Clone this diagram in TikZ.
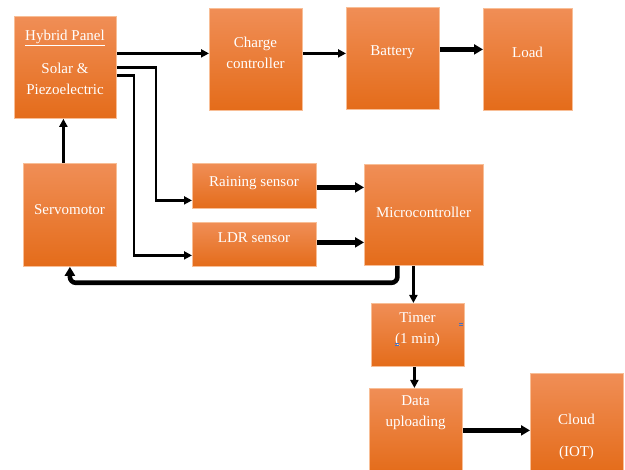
\documentclass[tikz,border=0pt]{standalone}
\usepackage{fontspec}
\setmainfont{Liberation Serif}
\usetikzlibrary{arrows.meta}
\definecolor{otop}{RGB}{240,142,86}
\definecolor{obot}{RGB}{228,108,26}
\definecolor{oedge}{RGB}{248,190,150}
\definecolor{handle}{RGB}{68,114,196}
\tikzset{
  box/.style={draw=oedge, line width=0.8pt, top color=otop, bottom color=obot, anchor=north west, inner sep=0pt},
  txt/.style={text=white, align=center, font=\fontsize{15}{21}\selectfont, inner sep=0pt},
  thinarrow/.style={line width=2.6pt, -{Triangle[length=8pt,width=8pt]}},
  thickarrow/.style={line width=4.6pt, -{Triangle[length=9pt,width=10pt]}},
}
\begin{document}
\begin{tikzpicture}[x=1pt,y=-1pt]
\useasboundingbox (0,0) rectangle (625,470);
% boxes
\node[box, minimum width=102pt, minimum height=102pt] (panel) at (14,16) {};
\node[box, minimum width=93pt, minimum height=102pt] (charge) at (209,8) {};
\node[box, minimum width=93pt, minimum height=102pt] (battery) at (346,7) {};
\node[box, minimum width=89pt, minimum height=102pt] (load) at (483,8) {};
\node[box, minimum width=93pt, minimum height=103pt] (servo) at (23,163) {};
\node[box, minimum width=124pt, minimum height=45pt] (rain) at (192,163) {};
\node[box, minimum width=124pt, minimum height=44pt] (ldr) at (192,222) {};
\node[box, minimum width=119pt, minimum height=101pt] (micro) at (364,164) {};
\node[box, minimum width=93pt, minimum height=63pt] (timer) at (371,303) {};
\node[box, minimum width=93pt, minimum height=84pt] (data) at (369,388) {};
\node[box, minimum width=93pt, minimum height=99pt] (cloud) at (530,373) {};
% texts
\node[txt] (panelt) at (65,62) {\underline{Hybrid Panel}\\[12pt]Solar \&\\Piezoelectric};
\node[txt] (charget) at (255.5,52.5) {Charge\\controller};
\node[txt] (batteryt) at (392.5,52) {Battery};
\node[txt] (loadt) at (527.5,52) {Load};
\node[txt] (servot) at (69.5,210) {Servomotor};
\node[txt] (raint) at (254,183) {Raining sensor};
\node[txt] (ldrt) at (254,238) {LDR sensor};
\node[txt] (microt) at (423.5,212) {Microcontroller};
\node[txt] (timert) at (417.5,329.5) {Timer\\(1 min)};
\node[txt] (datat) at (415.5,413) {Data\\uploading};
\node[txt] (cloudt) at (576.5,437) {Cloud\\[11pt](IOT)};
% small blue handles on the timer box
\fill[handle] (458.5,323.5) rectangle (462.5,324.3);
\fill[handle] (458.5,325.5) rectangle (462.5,326.3);
\fill[handle] (395,343.5) rectangle (399,344.3);
\fill[handle] (395,345.5) rectangle (399,346.3);
% connectors
\draw[thinarrow] ([yshift=14pt]panel.east) -- ([yshift=14pt]panel.east -| charge.west);
\draw[thinarrow] (panel.east) -- ++(39,0) |- ([yshift=-14.5pt]rain.west);
\draw[thinarrow] ([yshift=-8pt]panel.east) -- ++(17,0) |- ([yshift=-11pt]ldr.west);
\draw[thinarrow] ([yshift=6pt]charge.east) -- ([yshift=6pt]charge.east -| battery.west);
\draw[thickarrow] ([yshift=9pt]battery.east) -- ([yshift=9pt]battery.east -| load.west);
\draw[thinarrow] ([xshift=-6.5pt]servo.north) -- ([xshift=-6.5pt]servo.north |- panel.south);
\draw[thickarrow] ([yshift=-1.5pt]rain.east) -- ([yshift=-1.5pt]rain.east -| micro.west);
\draw[thickarrow] ([yshift=2pt]ldr.east) -- ([yshift=2pt]ldr.east -| micro.west);
\draw[thickarrow, rounded corners=6pt] ([xshift=-26.5pt]micro.south) -- ++(0,17) -| (servo.south);
\draw[thinarrow] ([xshift=-10.5pt]micro.south) -- ([xshift=-10.5pt]micro.south |- timer.north);
\draw[line width=3.6pt, -{Triangle[length=8pt,width=8pt]}] ([xshift=-1.5pt]data.north |- timer.south) -- ([xshift=-1.5pt]data.north);
\draw[thickarrow] (data.east) -- (data.east -| cloud.west);
\end{tikzpicture}
\end{document}
